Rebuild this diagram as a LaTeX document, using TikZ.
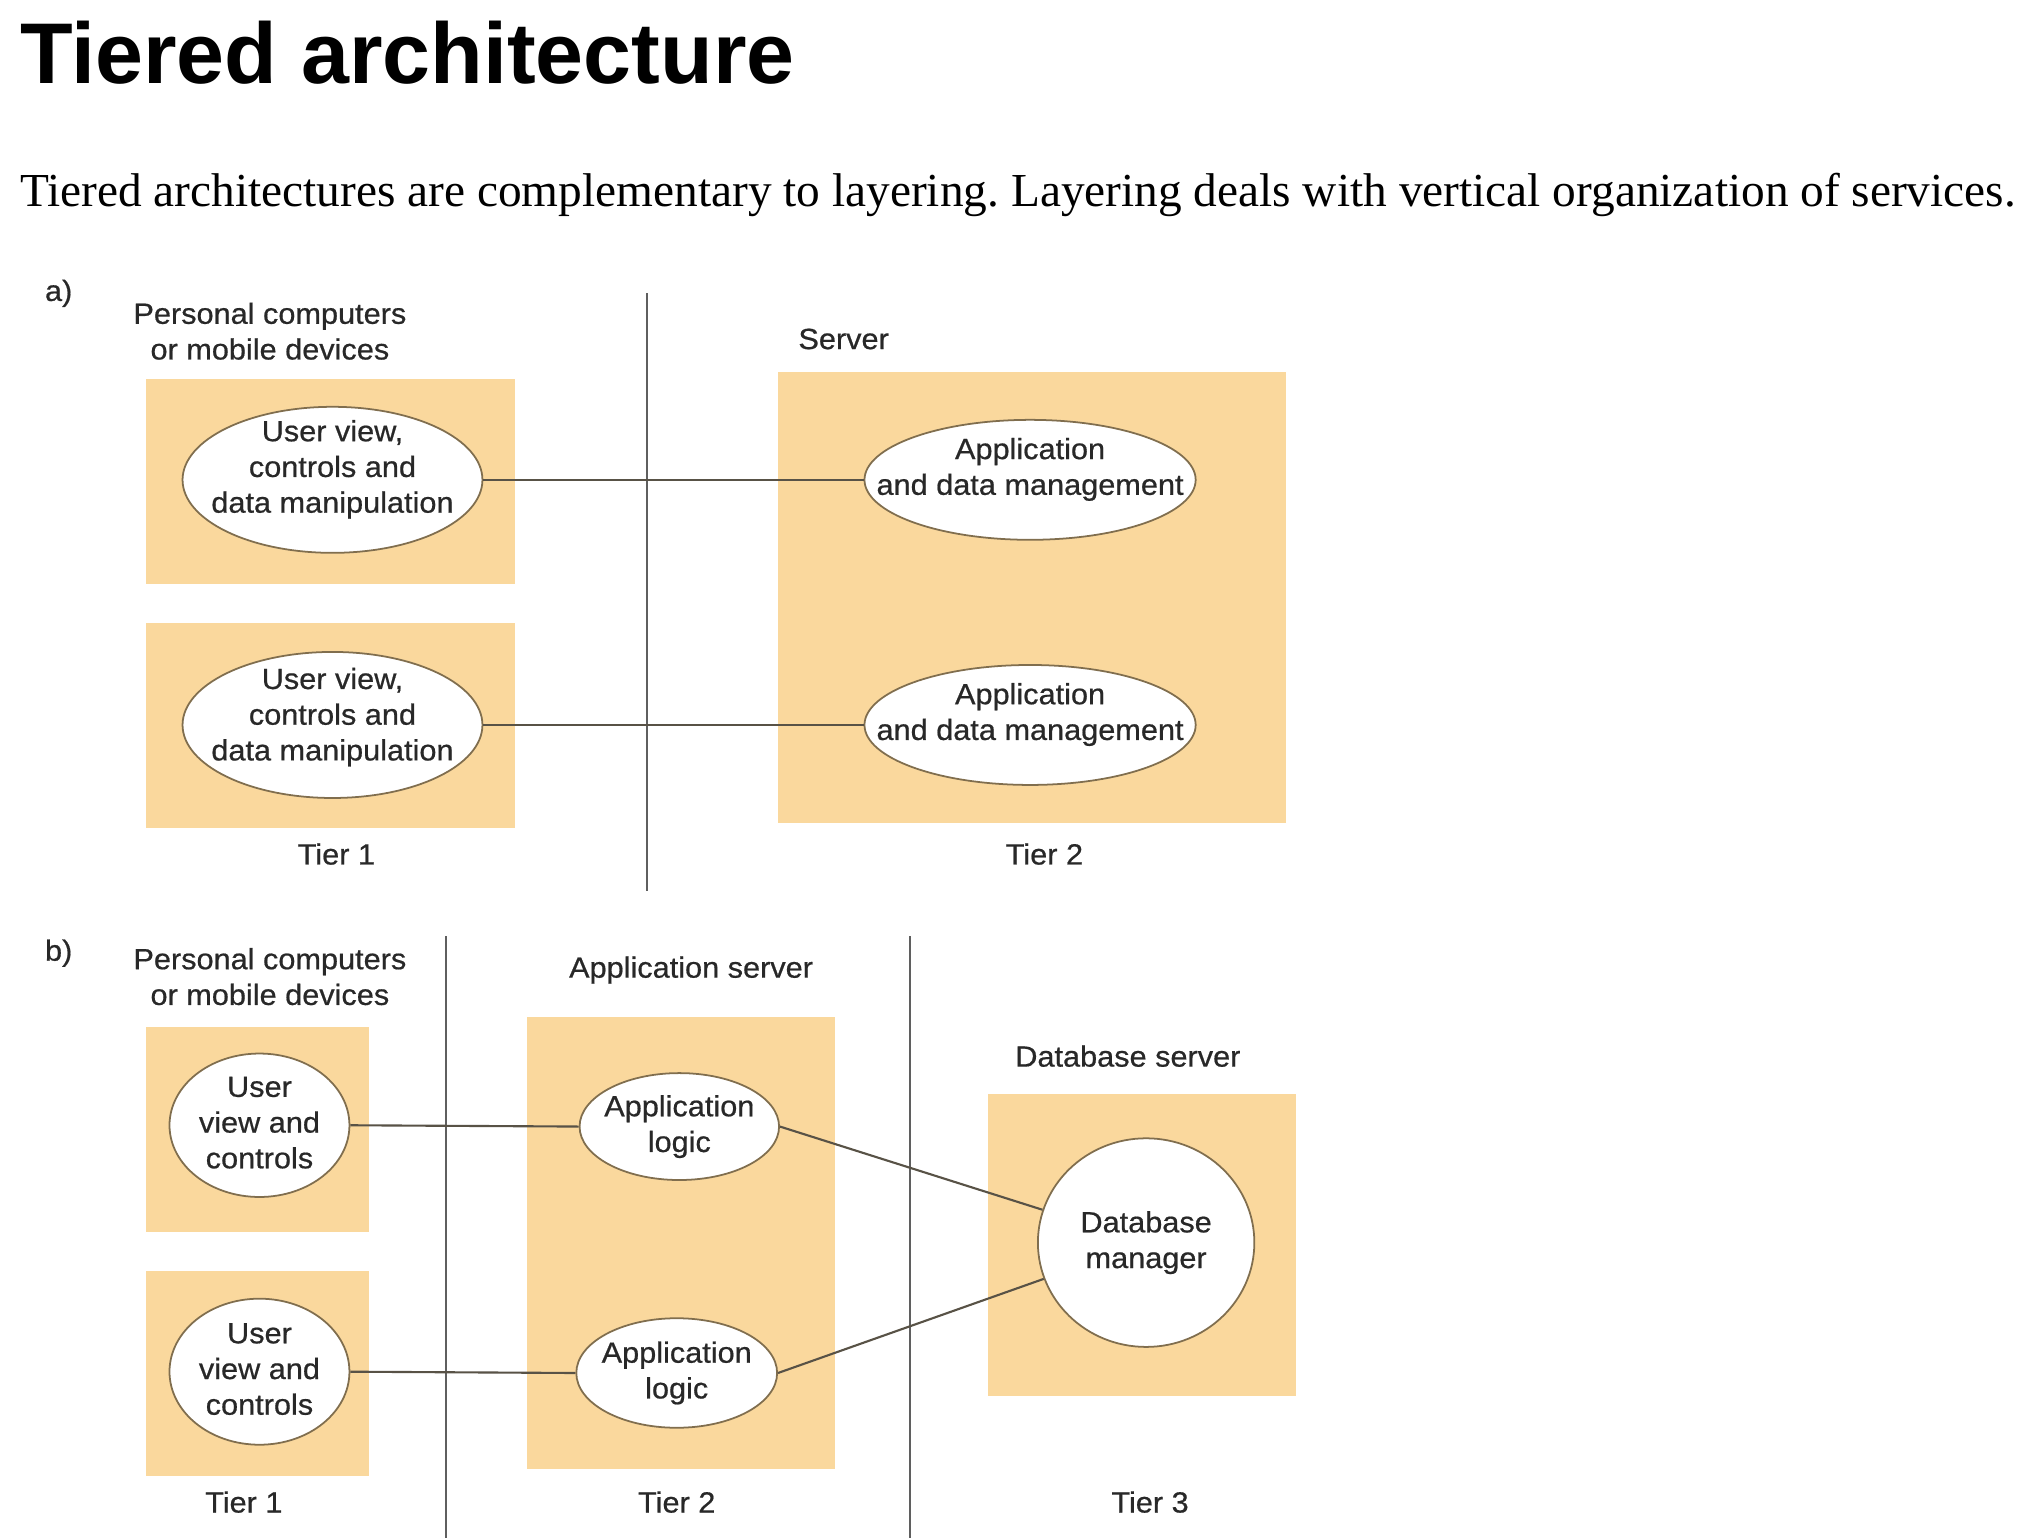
\documentclass[tikz,border=0pt]{standalone}
\usepackage{fontspec}
\setmainfont{Liberation Serif}
\newfontfamily\headfont{Liberation Sans}
\newfontfamily\figfont[FakeStretch=1.05,FakeBold=0.6]{Liberation Sans}
\usepackage{tikz}
\usetikzlibrary{shapes,backgrounds,calc}
\usetikzlibrary{positioning, shapes.geometric}
\frenchspacing
\newlength\dunit
\setlength\dunit{0.013cm}
\definecolor{tierfill}{RGB}{250,216,157}
\definecolor{ellline}{RGB}{128,110,78}
\definecolor{wire}{RGB}{88,82,70}
\definecolor{divline}{RGB}{95,95,95}
\definecolor{figtext}{RGB}{40,40,40}
\tikzset{
  tierbox/.style 2 args={ fill=tierfill, draw=none, inner sep=0pt, minimum width=#1*\dunit, minimum height=#2*\dunit }
}
\tikzset{
  ellnode/.style 2 args={ ellipse, draw=ellline, line width=0.5pt, fill=white, inner sep=0pt, minimum width=#1*\dunit, minimum height=#2*\dunit }
}
\tikzset{
  txt/.style={ font=\figfont\fontsize{8.29}{10.13}\selectfont, text=figtext, align=center, inner sep=0pt }
}
\tikzset{
  wire/.style={ draw=wire, line width=0.6pt }
}
\tikzset{
  divider/.style={ draw=divline, line width=0.5pt }
}

\begin{document}
\begin{tikzpicture}[x=\dunit, y=-\dunit]
      \useasboundingbox (0,0) rectangle (1563,1179.5);
      \node[anchor=base west, inner sep=0pt, font=\headfont\bfseries\fontsize{24.45}{29}\selectfont] (title) at (15,64) {Tiered architecture};
      \node[anchor=base west, inner sep=0pt, font=\fontsize{13.43}{16}\selectfont] (intro) at (15,158) {Tiered architectures are complementary to layering. Layering deals with vertical organization of services.};

      % a) two tiers
      \node[txt] (labA) at (45,225) {a)};
      \node[txt] (pcAhead) at (207,254) {Personal computers\\or mobile devices};
      \node[txt] (srvhead) at (647,260) {Server};
      \node[tierbox={283}{157}] (pcA) at (253.5,369.5) {};
      \node[tierbox={283}{157}] (pcB) at (253.5,556.5) {};
      \node[tierbox={389}{346}] (srv) at (791.5,458) {};
      \node[ellnode={230}{112}, label={[txt, yshift=8*\dunit]center:{User view,\\controls and\\data manipulation}}] (uvA) at (255,368) {};
      \node[ellnode={230}{112}, label={[txt, yshift=6*\dunit]center:{User view,\\controls and\\data manipulation}}] (uvB) at (255,556) {};
      \node[ellnode={254}{92}, label={[txt, yshift=8*\dunit]center:{Application\\and data management}}] (appA) at (790,368) {};
      \node[ellnode={254}{92}, label={[txt, yshift=8*\dunit]center:{Application\\and data management}}] (appB) at (790,556) {};
      \node[txt] (tierAone) at (258,655) {Tier 1};
      \node[txt] (tierAtwo) at (801,655) {Tier 2};
      \coordinate (divAtop) at (496,225);
      \coordinate (divAbot) at (496,683);
      \draw[divider] (divAtop) -- (divAbot);
      \draw[wire] (uvA.east) -- (appA.west);
      \draw[wire] (uvB.east) -- (appB.west);

      % b) three tiers
      \node[txt] (labB) at (45,731) {b)};
      \node[txt] (pcBhead) at (207,749) {Personal computers\\or mobile devices};
      \node[txt] (appsrvhead) at (530,744) {Application server};
      \node[txt] (dbsrvhead) at (865,810) {Database server};
      \node[tierbox={171}{157}] (pcC) at (197.5,866.5) {};
      \node[tierbox={171}{157}] (pcD) at (197.5,1053.5) {};
      \node[tierbox={236}{347}] (appsrv) at (522,953.5) {};
      \node[tierbox={236}{232}] (dbsrv) at (876,955) {};
      \node[ellnode={138}{110}, label={[txt, yshift=2*\dunit]center:{User\\view and\\controls}}] (uvC) at (199,863) {};
      \node[ellnode={138}{112}, label={[txt, yshift=2*\dunit]center:{User\\view and\\controls}}] (uvD) at (199,1052) {};
      \node[ellnode={153}{82}, label={[txt]center:{Application\\logic}}] (logA) at (521,864) {};
      \node[ellnode={154}{84}, label={[txt]center:{Application\\logic}}] (logB) at (519,1053) {};
      \node[ellnode={166}{160}, label={[txt]center:{Database\\manager}}] (dbm) at (879,953) {};
      \node[txt] (tierBone) at (187,1152) {Tier 1};
      \node[txt] (tierBtwo) at (519,1152) {Tier 2};
      \node[txt] (tierBthree) at (882,1152) {Tier 3};
      \coordinate (divBtop) at (342,718);
      \coordinate (divBbot) at (342,1179.5);
      \coordinate (divCtop) at (698,718);
      \coordinate (divCbot) at (698,1179.5);
      \draw[divider] (divBtop) -- (divBbot);
      \draw[divider] (divCtop) -- (divCbot);
      \draw[wire] (uvC.east) -- (logA.west);
      \draw[wire] (uvD.east) -- (logB.west);
      \draw[wire] (logA.east) -- (dbm);
      \draw[wire] (logB.east) -- (dbm);
\end{tikzpicture}
\end{document}
